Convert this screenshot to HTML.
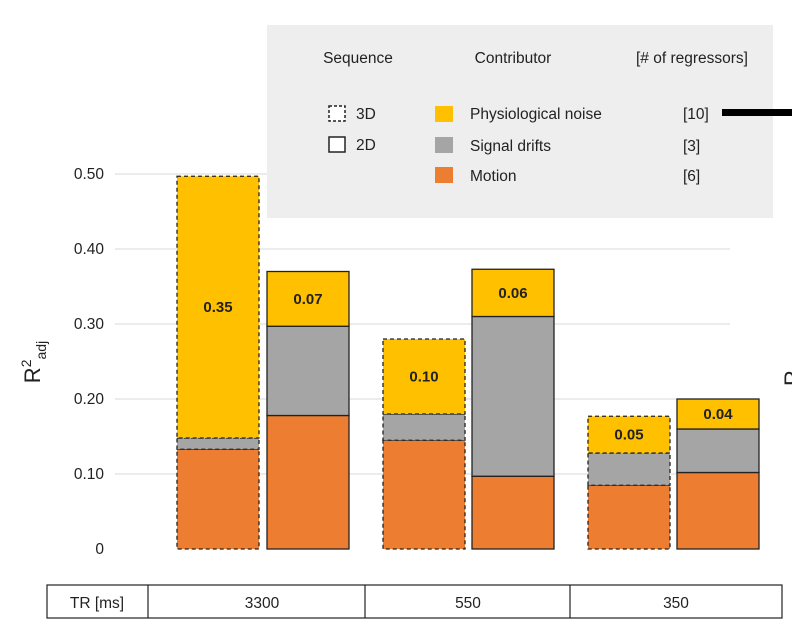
<!DOCTYPE html>
<html><head><meta charset="utf-8"><style>
body{margin:0;background:#fff;}
svg{display:block;font-family:"Liberation Sans",sans-serif;}
</style></head><body>
<svg id="c" width="792" height="631" viewBox="0 0 792 631">
<g id="grid"></g>
<g id="bars"></g>
<g id="legend">
<rect x="267" y="25" width="506" height="193" fill="#eeeeee"/>
<text x="358" y="63" font-size="15.5" text-anchor="middle" fill="#222">Sequence</text>
<text x="513" y="63" font-size="15.5" text-anchor="middle" fill="#222">Contributor</text>
<text x="692" y="63" font-size="15.5" text-anchor="middle" fill="#222">[# of regressors]</text>
<rect x="329" y="106" width="16" height="15" fill="#fff" stroke="#222" stroke-width="1.5" stroke-dasharray="3,2"/>
<text x="356" y="119" font-size="15.5" fill="#222">3D</text>
<rect x="329" y="137" width="16" height="15" fill="#fff" stroke="#222" stroke-width="1.5"/>
<text x="356" y="150" font-size="15.5" fill="#222">2D</text>
<rect x="435" y="106" width="18" height="16" fill="#ffc000"/>
<text x="470" y="119" font-size="15.5" fill="#222">Physiological noise</text>
<text x="683" y="119" font-size="15.5" fill="#222">[10]</text>
<rect x="435" y="137" width="18" height="16" fill="#a5a5a5"/>
<text x="470" y="151" font-size="15.5" fill="#222">Signal drifts</text>
<text x="683" y="151" font-size="15.5" fill="#222">[3]</text>
<rect x="435" y="167" width="18" height="16" fill="#ed7d31"/>
<text x="470" y="181" font-size="15.5" fill="#222">Motion</text>
<text x="683" y="181" font-size="15.5" fill="#222">[6]</text>
<rect x="722" y="109" width="70" height="7" fill="#000"/>
</g>
<text transform="translate(40,362) rotate(-90)" font-size="22" text-anchor="middle" fill="#222">R<tspan font-size="14" dy="-9">2</tspan><tspan font-size="14" dy="15">adj</tspan></text>
<text transform="translate(800,378) rotate(-90)" font-size="22" text-anchor="middle" fill="#222">R</text>
<g>
<rect x="47" y="585" width="735" height="33" fill="#fff" stroke="#222" stroke-width="1.2"/>
<line x1="148" y1="585" x2="148" y2="618" stroke="#222" stroke-width="1.2"/>
<line x1="365" y1="585" x2="365" y2="618" stroke="#222" stroke-width="1.2"/>
<line x1="570" y1="585" x2="570" y2="618" stroke="#222" stroke-width="1.2"/>
<text x="97" y="608" font-size="15.5" text-anchor="middle" fill="#222">TR [ms]</text>
<text x="262" y="608" font-size="15.5" text-anchor="middle" fill="#222">3300</text>
<text x="468" y="608" font-size="15.5" text-anchor="middle" fill="#222">550</text>
<text x="676" y="608" font-size="15.5" text-anchor="middle" fill="#222">350</text>
</g>
</svg>
<script>
const ticks=[0,0.1,0.2,0.3,0.4,0.5];
const tickLabels=["0","0.10","0.20","0.30","0.40","0.50"];
const barNames=["3300-3d","3300-2d","550-3d","550-2d","350-3d","350-2d"];
const dashed=[true,false,true,false,true,false];
const motion=[0.133,0.178,0.145,0.097,0.085,0.102];
const drifts=[0.015,0.119,0.035,0.213,0.043,0.058];
const physio=[0.349,0.073,0.100,0.063,0.049,0.040];
const physioLabels=["0.35","0.07","0.10","0.06","0.05","0.04"];
const barLeft=[177,267,383,472,588,677];
const y=v=>549-v*750;
const ns="http://www.w3.org/2000/svg";
const grid=document.getElementById('grid'),bars=document.getElementById('bars');
ticks.forEach((t,i)=>{
 if(t>0){const l=document.createElementNS(ns,'line');
 l.setAttribute('x1',115);l.setAttribute('x2',730);l.setAttribute('y1',y(t));l.setAttribute('y2',y(t));
 l.setAttribute('stroke','#d9d9d9');
 
 
 grid.appendChild(l);}
 const tx=document.createElementNS(ns,'text');
 tx.setAttribute('x',104);tx.setAttribute('y',y(t)+5);tx.setAttribute('text-anchor','end');tx.setAttribute('font-size','15.5');tx.setAttribute('fill','#222');
 tx.textContent=tickLabels[i];
 
 
 grid.appendChild(tx);
});
function seg(x,v0,v1,fill,dash,name){
 const r=document.createElementNS(ns,'rect');
 r.setAttribute('x',x);r.setAttribute('width',82);r.setAttribute('y',y(v1));r.setAttribute('height',y(v0)-y(v1));
 r.setAttribute('fill',fill);r.setAttribute('stroke','#222');r.setAttribute('stroke-width','1.3');
 if(dash)r.setAttribute('stroke-dasharray','4,3');
 
 
 bars.appendChild(r);
}
barNames.forEach((n,i)=>{
 const x=barLeft[i],a=motion[i],b=a+drifts[i],c=b+physio[i];
 seg(x,0,a,'#ed7d31',dashed[i],'bar-'+n+'-motion');
 seg(x,a,b,'#a5a5a5',dashed[i],'bar-'+n+'-drifts');
 seg(x,b,c,'#ffc000',dashed[i],'bar-'+n+'-physio');
 const t=document.createElementNS(ns,'text');
 t.setAttribute('x',x+41);t.setAttribute('y',(y(b)+y(c))/2+5);t.setAttribute('text-anchor','middle');
 t.setAttribute('font-size','15');t.setAttribute('font-weight','bold');t.setAttribute('fill','#222');
 t.textContent=physioLabels[i];
 
 
 bars.appendChild(t);
});
</script>
</body></html>
